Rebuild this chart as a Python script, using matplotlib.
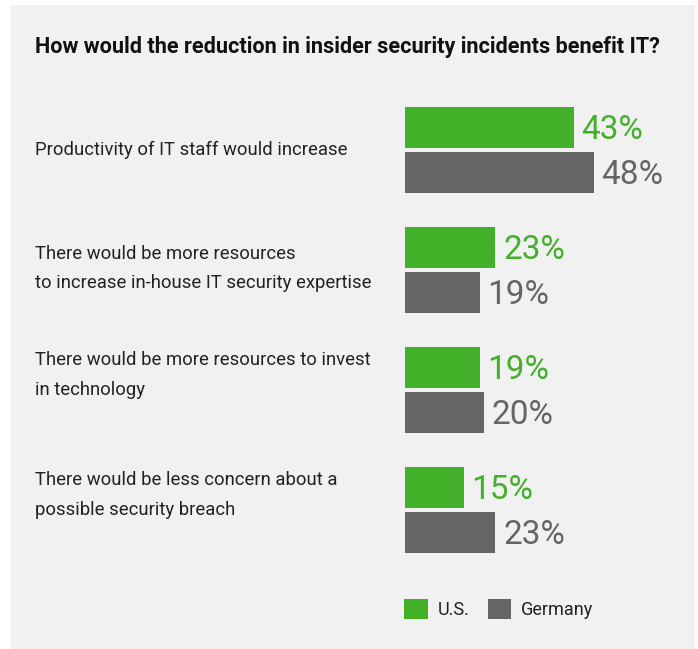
import matplotlib.pyplot as plt
import matplotlib.transforms as mtransforms
from matplotlib.patches import Rectangle, Patch
import numpy as np

title = "How would the reduction in insider security incidents benefit IT?"
categories = [
  "Productivity of IT staff would increase",
  "There would be more resources\nto increase in-house IT security expertise",
  "There would be more resources to invest\nin technology",
  "There would be less concern about a\npossible security breach",
]
series_names = ["U.S.", "Germany"]
us_values = [43, 23, 19, 15]
germany_values = [48, 19, 20, 23]

green = "#43b02a"
grey = "#666464"
panel = "#f1f1f1"

W, H = 698, 649
fig = plt.figure(figsize=(W / 100, H / 100), dpi=100)
fig.patch.set_facecolor("white")

# light grey card behind everything
fig.patches.append(Rectangle((11 / W, 0), (695 - 11) / W, 1 - 5 / H,
                             transform=fig.transFigure, facecolor=panel,
                             edgecolor="none", zorder=-10))

fig.text(35 / W, 1 - 47 / H, title, fontsize=15.6, fontweight="bold",
         family=["Roboto", "DejaVu Sans"], color="#111111", va="center")

# bars axes in pixel positions: x 405..695, y 90..570
ax = fig.add_axes([405 / W, 1 - 570 / H, 290 / W, 480 / H])
ax.set_facecolor("none")
ax.set_xlim(0, 290 / 3.93)
ax.set_ylim(4, 0)
ax.axis("off")

y = np.arange(len(categories)) + 0.5
off = 0.1875
bh = 41 / 120
b_us = ax.barh(y - off, us_values, height=bh, color=green)
b_de = ax.barh(y + off, germany_values, height=bh, color=grey)

for bars, vals, col in [(b_us, us_values, green), (b_de, germany_values, grey)]:
  for b, v in zip(bars, vals):
    ax.annotate(f"{v}%", (b.get_width(), b.get_y() + b.get_height() / 2),
                xytext=(5.5, -1.5), textcoords="offset points", va="center",
                ha="left", fontsize=24, color=col,
                family=["Roboto", "DejaVu Sans"])

# category labels, nudged to where they sit in the original
label_shift = [0.0, -0.01, -0.125, -0.125]
trans = mtransforms.blended_transform_factory(fig.transFigure, ax.transData)
for yy, s, lab in zip(y, label_shift, categories):
  fig.text(35 / W, yy + s, lab, transform=trans, va="center", ha="left",
           fontsize=13.3, color="#222222", linespacing=1.8,
           family=["Roboto", "DejaVu Sans"])

handles = [Patch(facecolor=green, label=series_names[0]),
           Patch(facecolor=grey, label=series_names[1])]
leg = fig.legend(handles=handles, loc="center left",
                 bbox_to_anchor=(388 / W, 1 - 609 / H), ncol=2, frameon=False,
                 handlelength=1.3, handleheight=1.3, handletextpad=0.55,
                 columnspacing=1.0, prop={"family": ["Roboto", "DejaVu Sans"], "size": 13})
for t in leg.get_texts():
  t.set_color("#222222")

fig.savefig("out.png", dpi=100, facecolor=fig.get_facecolor())
